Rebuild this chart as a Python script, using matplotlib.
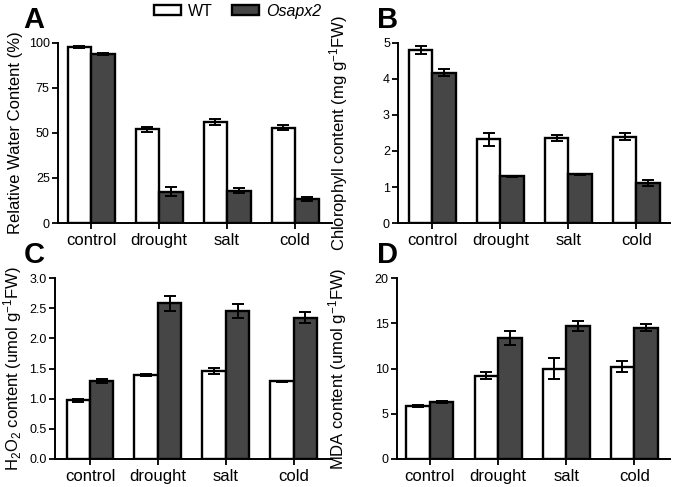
import matplotlib
matplotlib.use('agg')
from matplotlib import pyplot as plt

plt.rcParams['font.family'] = ['Liberation Sans', 'DejaVu Sans']
plt.rcParams['mathtext.fontset'] = 'custom'
plt.rcParams['mathtext.rm'] = 'Liberation Sans'
plt.rcParams['mathtext.it'] = 'Liberation Sans:italic'
plt.rcParams['mathtext.bf'] = 'Liberation Sans:bold'

CATEGORIES = ['control', 'drought', 'salt', 'cold']

# A: relative water content (%)
RWC_WT = [97.5, 52.0, 56.0, 53.0]
RWC_WT_ERR = [0.6, 1.5, 1.5, 1.5]
RWC_MUT = [94.0, 17.5, 18.0, 13.5]
RWC_MUT_ERR = [0.5, 2.7, 1.5, 1.0]

# B: chlorophyll content
CHL_WT = [4.80, 2.33, 2.35, 2.40]
CHL_WT_ERR = [0.11, 0.18, 0.08, 0.10]
CHL_MUT = [4.17, 1.30, 1.35, 1.12]
CHL_MUT_ERR = [0.10, 0.01, 0.02, 0.08]

# C: H2O2 content
H2O2_WT = [0.97, 1.39, 1.46, 1.29]
H2O2_WT_ERR = [0.03, 0.02, 0.05, 0.01]
H2O2_MUT = [1.29, 2.58, 2.45, 2.34]
H2O2_MUT_ERR = [0.03, 0.12, 0.12, 0.09]

# D: MDA content
MDA_WT = [5.9, 9.2, 10.0, 10.2]
MDA_WT_ERR = [0.1, 0.4, 1.2, 0.6]
MDA_MUT = [6.3, 13.4, 14.7, 14.5]
MDA_MUT_ERR = [0.1, 0.8, 0.5, 0.4]

WT_COLOR = 'white'
MUT_COLOR = '#464646'
WIDTH = 0.345

PANELS = [
    # rect, wt, wt_err, mut, mut_err, yticks, ticklabels, ylabel, xlim, label_x
    ([0.086, 0.542, 0.406, 0.370], RWC_WT, RWC_WT_ERR, RWC_MUT, RWC_MUT_ERR,
     [0, 25, 50, 75, 100], ['0', '25', '50', '75', '100'],
     'Relative Water Content (%)', (-0.485, 3.544), -0.128),
    ([0.590, 0.542, 0.403, 0.370], CHL_WT, CHL_WT_ERR, CHL_MUT, CHL_MUT_ERR,
     [0, 1, 2, 3, 4, 5], ['0', '1', '2', '3', '4', '5'],
     'Chlorophyll content (mg g$^{-1}$FW)', (-0.5, 3.5), -0.178),
    ([0.0815, 0.0575, 0.410, 0.3715], H2O2_WT, H2O2_WT_ERR, H2O2_MUT, H2O2_MUT_ERR,
     [0, 0.5, 1.0, 1.5, 2.0, 2.5, 3.0], ['0.0', '0.5', '1.0', '1.5', '2.0', '2.5', '3.0'],
     'H$_2$O$_2$ content (umol g$^{-1}$FW)', (-0.515, 3.56), -0.112),
    ([0.588, 0.0575, 0.405, 0.3715], MDA_WT, MDA_WT_ERR, MDA_MUT, MDA_MUT_ERR,
     [0, 5, 10, 15, 20], ['0', '5', '10', '15', '20'],
     'MDA content (umol g$^{-1}$FW)', (-0.485, 3.53), -0.175),
]

fig = plt.figure(figsize=(6.75, 4.87), dpi=100)

x = list(range(len(CATEGORIES)))
handles = None
for rect, wt, wt_err, mut, mut_err, yticks, ytl, ylabel, xlim, lx in PANELS:
    ax = fig.add_axes(rect)
    err_kw = dict(ecolor='black', elinewidth=1.4, capsize=4.5, capthick=1.4)
    b1 = ax.bar([i - WIDTH / 2 for i in x], wt, WIDTH, yerr=wt_err, color=WT_COLOR,
                edgecolor='black', linewidth=1.7, error_kw=err_kw, label='WT')
    b2 = ax.bar([i + WIDTH / 2 for i in x], mut, WIDTH, yerr=mut_err, color=MUT_COLOR,
                edgecolor='black', linewidth=1.7, error_kw=err_kw, label='Osapx2')
    handles = (b1, b2)
    ax.set_xlim(*xlim)
    ax.set_ylim(yticks[0], yticks[-1])
    ax.set_yticks(yticks)
    ax.set_yticklabels(ytl, fontsize=9)
    ax.set_xticks(x)
    ax.set_xticklabels(CATEGORIES, fontsize=12)
    ax.set_ylabel(ylabel, fontsize=12)
    ax.yaxis.set_label_coords(lx, 0.5)
    for side in ('top', 'right'):
        ax.spines[side].set_visible(False)
    for side in ('left', 'bottom'):
        ax.spines[side].set_linewidth(1.4)
    ax.tick_params(axis='both', direction='out', length=4, width=1.3, pad=2)
    ax.tick_params(axis='x', pad=3)

LETTERS = [('A', 0.035, 0.942), ('B', 0.558, 0.942), ('C', 0.035, 0.460), ('D', 0.558, 0.460)]
for letter, lx, ly in LETTERS:
    fig.text(lx, ly, letter, fontsize=21, fontweight='bold', ha='left', va='baseline')

leg = fig.legend(handles, ['WT', 'Osapx2'], loc='center', bbox_to_anchor=(0.352, 0.977),
                 ncol=2, frameon=False, fontsize=11.5, handlelength=1.7, handleheight=0.55,
                 handletextpad=0.45, columnspacing=1.2)
leg.get_texts()[1].set_fontstyle('italic')

fig.savefig('out.png', dpi=100)
